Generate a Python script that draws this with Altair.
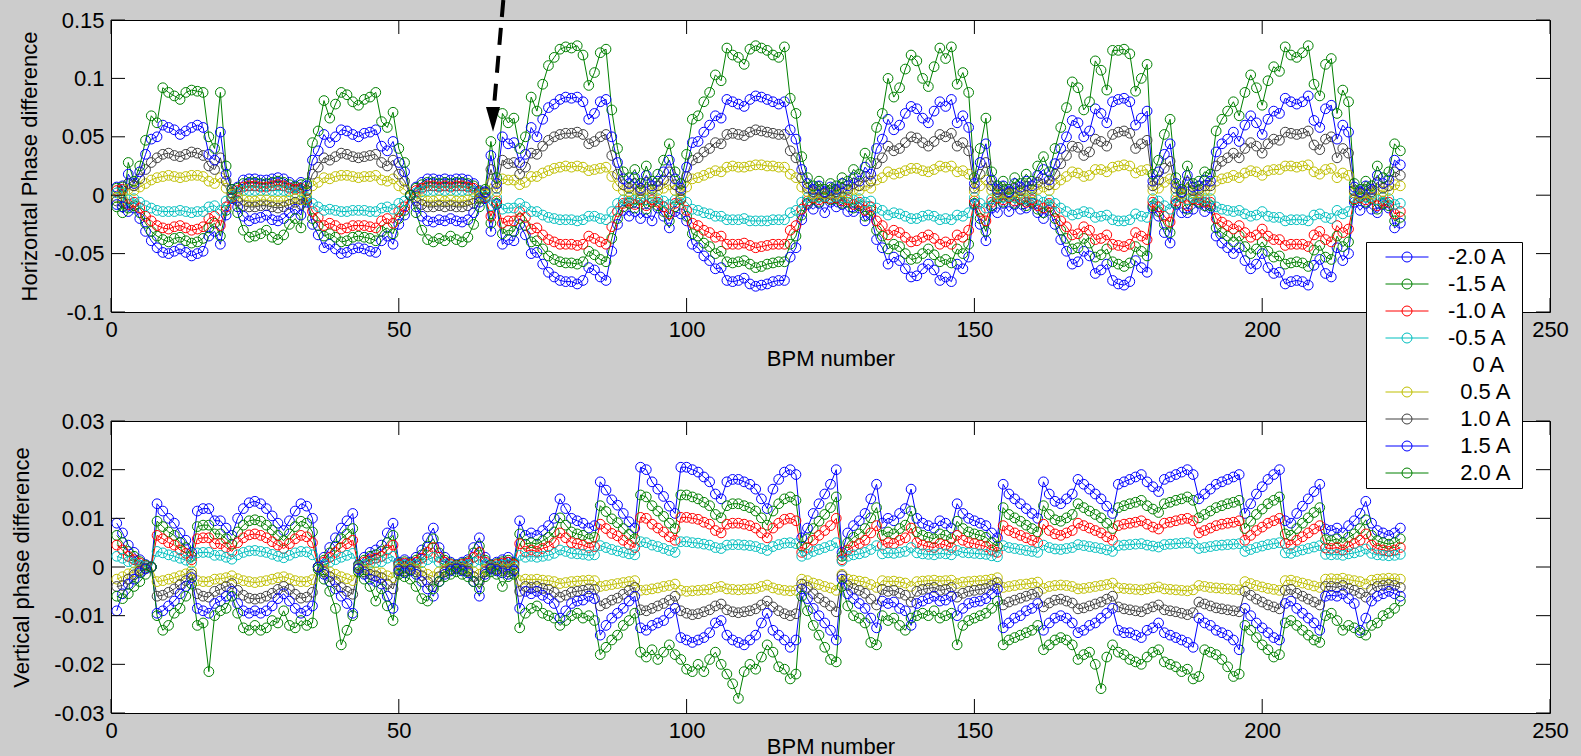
import altair as alt
import pandas as pd

FONT = "Liberation Sans, Arial, Helvetica, sans-serif"
W, H = 1439, 292
TICK_LEN = 14

SERIES = ["-2.0 A", "-1.5 A", "-1.0 A", "-0.5 A", "0 A", "0.5 A", "1.0 A", "1.5 A", "2.0 A"]
COLORS = ["#0000ff", "#008000", "#ff0000", "#00bfbf", "transparent", "#bfbf00", "#404040", "#0000ff", "#008000"]
PLOTTED = ["-2.0 A", "-1.5 A", "-1.0 A", "-0.5 A", "0.5 A", "1.0 A", "1.5 A", "2.0 A"]

BPM = list(range(1, 225))
X_TICKS = [0, 50, 100, 150, 200, 250]
H_TICKS = [-0.1, -0.05, 0, 0.05, 0.1, 0.15]
V_TICKS = [-0.03, -0.02, -0.01, 0, 0.01, 0.02, 0.03]

# ---- Horizontal phase difference, units of 0.001 ----
H_UNIT = 0.001
H_P20 = [-10,-15,28,12,25,47,68,62,92,88,85,82,88,90,89,88,50,40,88,25,
         5,-15,-30,-36,-35,-33,-30,-36,-38,-34,-25,-20,-28,10,45,55,81,66,78,88,
         86,80,77,82,84,88,63,58,71,40,28,0,-15,-30,-38,-40,-37,-39,-35,-38,
         -40,-36,-25,-10,5,46,15,70,62,66,40,50,84,72,95,111,118,125,127,126,
         128,120,94,105,122,125,73,40,20,15,22,10,25,12,18,30,44,20,10,35,
         65,68,80,88,103,98,126,120,118,112,125,128,126,124,120,118,127,83,70,33,
         15,8,12,5,10,8,15,12,22,18,36,28,58,70,100,84,92,108,120,115,
         100,93,110,126,117,127,95,105,88,15,40,66,20,8,12,5,15,10,18,12,
         25,33,20,40,58,75,97,92,73,80,115,107,90,124,124,125,121,89,100,112,
         18,30,52,65,15,5,25,10,12,20,18,55,65,72,80,68,88,103,92,77,
         98,110,106,127,120,118,122,128,95,85,112,117,70,90,80,10,5,12,8,25,
         15,20,44,38]
H_P15 = [-8,-10,18,10,20,35,48,50,60,58,56,52,55,58,60,58,35,30,54,18,
         5,-10,-18,-22,-20,-19,-17,-21,-22,-20,-15,-12,-17,8,30,38,52,45,50,56,
         55,52,50,53,54,56,42,38,46,28,20,0,-10,-18,-22,-23,-21,-22,-20,-22,
         -23,-21,-15,-6,3,34,10,50,44,45,28,35,58,50,65,75,78,82,84,83,
         84,80,65,70,80,82,50,28,14,10,15,6,17,8,12,20,30,14,6,24,
         45,46,54,60,68,66,82,80,78,76,82,85,84,82,80,78,80,56,48,22,
         10,5,8,3,7,5,10,8,15,12,24,18,40,48,65,56,60,70,76,74,
         66,62,72,80,76,82,62,68,58,10,28,44,13,5,8,3,10,7,12,8,
         17,22,13,27,40,50,64,62,50,55,74,70,62,80,82,83,80,60,66,72,
         12,20,35,44,10,3,17,7,8,13,12,37,44,48,54,46,60,68,62,52,
         65,72,70,83,80,78,80,85,64,58,74,77,48,60,54,7,3,8,5,17,
         10,13,30,26]
H_P10 = [-5,-6,10,8,14,22,28,32,35,36,34,33,35,37,36,34,25,22,32,12,
         2,-5,-9,-10,-10,-9,-9,-10,-11,-10,-8,-6,-8,4,18,24,32,30,33,36,
         35,33,32,33,34,35,28,25,30,18,12,0,-5,-8,-10,-10,-9,-10,-9,-10,
         -10,-9,-7,-3,2,22,6,30,27,28,18,24,36,35,42,47,50,52,53,53,
         54,52,44,46,50,52,34,18,9,6,10,4,11,5,8,13,20,9,4,16,
         30,32,37,40,45,44,52,53,52,51,54,56,55,54,53,52,52,38,32,15,
         6,3,5,2,4,3,6,5,10,8,16,12,27,32,42,38,40,45,50,49,
         45,42,46,52,50,53,42,45,38,6,18,28,8,3,5,2,6,4,8,5,
         11,14,9,18,27,34,42,41,34,37,48,46,42,52,54,55,53,40,44,47,
         8,13,23,29,6,2,11,4,5,8,8,25,29,32,36,32,40,45,42,36,
         44,48,47,54,53,52,53,55,43,39,48,50,32,40,36,4,2,5,3,11,
         6,8,20,17]
H_P05 = [-2,-3,5,4,7,10,13,15,16,17,16,15,16,17,17,16,12,10,15,6,
         1,-2,-4,-5,-5,-4,-4,-5,-5,-5,-4,-3,-4,2,8,11,15,14,16,17,
         17,16,15,16,16,17,13,12,14,8,5,0,-2,-4,-5,-5,-4,-5,-4,-5,
         -5,-4,-3,-1,1,10,3,14,13,13,9,11,16,16,19,21,23,24,25,24,
         25,24,21,22,23,24,16,8,4,3,5,2,5,2,4,6,9,4,2,7,
         14,15,17,19,21,20,24,25,24,24,25,26,26,25,25,24,24,18,15,7,
         3,1,2,1,2,1,3,2,5,4,8,6,13,15,20,18,19,21,23,23,
         21,20,22,25,24,25,20,21,18,3,8,13,4,1,2,1,3,2,4,2,
         5,7,4,9,13,16,20,19,16,17,22,22,20,24,25,26,25,19,21,22,
         4,6,11,14,3,1,5,2,2,4,4,12,14,15,17,15,19,21,20,17,
         21,22,22,25,25,24,25,26,20,18,22,23,15,19,17,2,1,2,1,5,
         3,4,9,8]
H_M05 = [2,2,-4,-3,-6,-9,-11,-13,-14,-14,-14,-13,-14,-15,-14,-14,-10,-9,-13,-5,
         -1,2,4,4,4,4,4,4,4,4,3,2,3,-2,-7,-10,-13,-12,-13,-14,
         -14,-13,-13,-13,-14,-14,-11,-10,-12,-7,-5,0,2,3,4,4,4,4,4,4,
         4,4,3,1,-1,-9,-2,-12,-11,-11,-7,-10,-14,-14,-17,-19,-20,-21,-21,-21,
         -22,-21,-18,-18,-20,-21,-14,-7,-4,-2,-4,-2,-4,-2,-3,-5,-8,-4,-2,-6,
         -12,-13,-15,-16,-18,-18,-21,-21,-21,-20,-22,-22,-22,-22,-21,-21,-21,-15,-13,-6,
         -2,-1,-2,-1,-2,-1,-2,-2,-4,-3,-6,-5,-11,-13,-17,-15,-16,-18,-20,-20,
         -18,-17,-18,-21,-20,-21,-17,-18,-15,-2,-7,-11,-3,-1,-2,-1,-2,-2,-3,-2,
         -4,-6,-4,-7,-11,-14,-17,-16,-14,-15,-19,-18,-17,-21,-22,-22,-21,-16,-18,-19,
         -3,-5,-9,-12,-2,-1,-4,-2,-2,-3,-3,-10,-12,-13,-14,-13,-16,-18,-17,-14,
         -18,-19,-19,-22,-21,-21,-21,-22,-17,-16,-19,-20,-13,-16,-14,-2,-1,-2,-1,-4,
         -2,-3,-8,-7]
H_M10 = [4,5,-8,-6,-11,-18,-22,-26,-28,-29,-27,-26,-28,-30,-29,-27,-20,-18,-26,-10,
         -2,4,7,8,8,7,7,8,9,8,6,5,6,-3,-14,-19,-26,-24,-26,-29,
         -28,-26,-26,-26,-27,-28,-22,-20,-24,-14,-10,0,4,6,8,8,7,8,7,8,
         8,7,6,2,-2,-18,-5,-24,-22,-22,-14,-19,-29,-28,-34,-38,-40,-42,-42,-42,
         -43,-42,-35,-37,-40,-42,-27,-14,-7,-5,-8,-3,-9,-4,-6,-10,-16,-7,-3,-13,
         -24,-26,-30,-32,-36,-35,-42,-42,-42,-41,-43,-45,-44,-43,-42,-42,-42,-30,-26,-12,
         -5,-2,-4,-2,-3,-2,-5,-4,-8,-6,-13,-10,-22,-26,-34,-30,-32,-36,-40,-39,
         -36,-34,-37,-42,-40,-42,-34,-36,-30,-5,-14,-22,-6,-2,-4,-2,-5,-3,-6,-4,
         -9,-11,-7,-14,-22,-27,-34,-33,-27,-30,-38,-37,-34,-42,-43,-44,-42,-32,-35,-38,
         -6,-10,-18,-23,-5,-2,-9,-3,-4,-6,-6,-20,-23,-26,-29,-26,-32,-36,-34,-29,
         -35,-38,-38,-43,-42,-42,-42,-44,-34,-31,-38,-40,-26,-32,-29,-3,-2,-4,-2,-9,
         -5,-6,-16,-14]
H_M15 = [6,7,-11,-9,-15,-24,-31,-35,-38,-40,-37,-36,-39,-41,-40,-37,-28,-24,-35,-13,
         -2,6,10,11,11,10,10,11,12,11,9,7,9,-4,-20,-26,-35,-33,-36,-40,
         -39,-36,-35,-36,-37,-39,-31,-28,-33,-20,-13,0,6,9,11,11,10,11,10,11,
         11,10,8,3,-2,-24,-7,-33,-30,-31,-20,-26,-40,-39,-46,-52,-55,-57,-58,-58,
         -59,-57,-48,-51,-55,-57,-37,-20,-10,-7,-11,-4,-12,-6,-9,-14,-22,-10,-4,-18,
         -33,-35,-41,-44,-50,-48,-57,-58,-57,-56,-59,-62,-61,-59,-58,-57,-57,-42,-35,-17,
         -7,-3,-6,-2,-4,-3,-7,-6,-11,-9,-18,-13,-30,-35,-46,-42,-44,-50,-55,-54,
         -50,-46,-51,-57,-55,-58,-46,-50,-42,-7,-20,-31,-9,-3,-6,-2,-7,-4,-9,-6,
         -12,-15,-10,-20,-30,-37,-46,-45,-37,-41,-53,-51,-46,-57,-59,-61,-58,-44,-48,-52,
         -9,-14,-25,-32,-7,-2,-12,-4,-6,-9,-9,-28,-32,-35,-40,-35,-44,-50,-46,-40,
         -48,-53,-52,-59,-58,-57,-58,-61,-47,-43,-53,-55,-35,-44,-40,-4,-2,-6,-3,-12,
         -7,-9,-22,-19]
H_M20 = [7,8,-14,-11,-20,-31,-39,-45,-49,-50,-48,-46,-49,-52,-50,-48,-35,-31,-42,-17,
         -3,7,13,14,14,13,13,14,15,14,11,8,11,-6,-25,-34,-45,-42,-46,-50,
         -49,-46,-45,-46,-48,-49,-39,-35,-42,-25,-17,0,7,11,14,14,13,14,13,14,
         14,13,10,4,-3,-31,-8,-42,-38,-39,-25,-34,-50,-49,-59,-66,-70,-73,-74,-74,
         -76,-73,-62,-64,-70,-73,-48,-25,-13,-18,-14,-20,-15,-22,-11,-18,-28,-14,-16,-22,
         -42,-45,-52,-56,-63,-62,-73,-74,-73,-71,-76,-78,-77,-76,-74,-73,-73,-53,-45,-21,
         -8,-12,-7,-15,-6,-10,-8,-14,-14,-11,-22,-17,-38,-45,-59,-53,-56,-63,-70,-69,
         -63,-59,-64,-73,-70,-74,-59,-63,-53,-8,-25,-39,-11,-15,-7,-14,-8,-12,-11,-7,
         -15,-20,-13,-25,-38,-48,-59,-57,-48,-52,-67,-64,-59,-73,-76,-77,-74,-56,-62,-66,
         -11,-18,-32,-41,-8,-15,-15,-12,-7,-14,-11,-35,-41,-45,-50,-45,-56,-63,-59,-50,
         -62,-67,-66,-76,-74,-73,-74,-77,-60,-55,-67,-70,-45,-56,-50,-6,-13,-7,-12,-15,
         -8,-11,-28,-24]

# ---- Vertical phase difference, units of 0.0001 ----
V_UNIT = 0.0001
V_M20 = [90,70,45,30,15,5,0,130,115,100,90,70,55,30,115,120,120,95,95,80,
         65,100,120,132,135,130,120,105,90,75,95,115,130,125,100,0,20,40,60,80,
         95,110,5,20,30,35,45,70,90,10,15,10,20,35,60,80,40,20,10,5,
         10,15,40,60,20,5,10,15,20,10,95,65,70,65,75,85,100,140,120,100,
         95,90,80,85,175,158,138,127,110,93,80,205,200,175,160,145,125,110,205,205,
         200,195,185,175,150,140,175,180,180,175,170,160,140,120,160,180,195,200,190,60,
         80,110,130,150,170,200,30,70,85,95,110,140,170,90,100,95,110,120,160,100,
         90,85,80,95,90,80,130,110,100,95,90,85,70,60,170,150,140,130,120,110,
         100,175,150,135,130,140,150,180,170,160,150,140,125,110,170,175,180,185,190,175,
         165,155,180,185,190,195,200,190,140,150,160,170,175,180,185,190,110,130,150,165,
         180,190,200,95,90,110,125,140,155,170,78,75,80,70,85,95,110,135,90,75,
         70,65,70,80]
V_M15 = [65,50,32,22,11,4,0,94,83,72,65,50,40,22,83,86,86,68,68,58,
         47,72,86,95,97,94,86,76,65,54,68,83,94,90,72,0,14,29,43,58,
         68,79,4,14,22,25,32,50,65,7,11,7,14,25,43,58,29,14,7,4,
         7,11,29,43,14,4,7,11,14,7,68,47,50,47,54,61,72,101,86,72,
         68,65,58,61,126,114,99,91,79,67,58,148,144,126,115,104,90,79,148,148,
         144,140,133,126,108,101,126,130,130,126,122,115,101,86,115,130,140,144,137,43,
         58,79,94,108,122,144,22,50,61,68,79,101,122,65,72,68,79,86,115,72,
         65,61,58,68,65,58,94,79,72,68,65,61,50,43,122,108,101,94,86,79,
         72,126,108,97,94,101,108,130,122,115,108,101,90,79,122,126,130,133,137,126,
         119,112,130,133,137,140,144,137,101,108,115,122,126,130,133,137,79,94,108,119,
         130,137,144,68,65,79,90,101,112,122,56,54,58,50,61,68,79,97,65,54,
         50,47,50,58]
V_M10 = [45,35,22,15,8,2,0,65,58,50,45,35,28,15,58,60,60,48,48,40,
         32,50,60,66,68,65,60,52,45,38,48,58,65,62,50,0,10,20,30,40,
         48,55,2,10,15,18,22,35,45,5,8,5,10,18,30,40,20,10,5,2,
         5,8,20,30,10,2,5,8,10,5,48,32,35,32,38,42,50,70,60,50,
         48,45,40,42,88,79,69,64,55,46,40,102,100,88,80,72,62,55,102,102,
         100,98,92,88,75,70,88,90,90,88,85,80,70,60,80,90,98,100,95,30,
         40,55,65,75,85,100,15,35,42,48,55,70,85,45,50,48,55,60,80,50,
         45,42,40,48,45,40,65,55,50,48,45,42,35,30,85,75,70,65,60,55,
         50,88,75,68,65,70,75,90,85,80,75,70,62,55,85,88,90,92,95,88,
         82,78,90,92,95,98,100,95,70,75,80,85,88,90,92,95,55,65,75,82,
         90,95,100,48,45,55,62,70,78,85,39,38,40,35,42,48,55,68,45,38,
         35,32,35,40]
V_M05 = [22,18,11,8,4,1,0,32,29,25,22,18,14,8,29,30,30,24,24,20,
         16,25,30,33,34,32,30,26,22,19,24,29,32,31,25,0,5,10,15,20,
         24,28,1,5,8,9,11,18,22,2,4,2,5,9,15,20,10,5,2,1,
         2,4,10,15,5,1,2,4,5,2,24,20,22,20,22,24,28,35,32,28,
         27,26,24,25,44,40,36,33,30,27,25,52,50,45,42,38,34,30,52,52,
         50,49,47,45,40,38,45,46,46,45,44,42,38,34,42,46,49,50,48,22,
         26,32,36,40,44,50,12,22,25,27,30,36,44,27,29,28,30,32,40,29,
         27,26,25,28,27,25,34,30,29,28,27,26,23,21,44,40,38,36,34,32,
         30,45,40,37,36,38,40,46,44,42,40,38,35,32,44,45,46,47,48,45,
         43,41,46,47,48,49,50,48,38,40,42,44,45,46,47,48,32,36,40,43,
         46,48,50,29,28,32,35,38,41,44,26,25,26,24,27,29,32,37,28,25,
         24,23,24,26]
V_P05 = [-25,-20,-14,-10,-6,-3,0,-30,-28,-25,-22,-18,-14,-8,-28,-30,-30,-25,-24,-22,
         -18,-24,-28,-30,-32,-30,-28,-25,-22,-20,-24,-28,-30,-30,-26,0,-6,-10,-15,-20,
         -24,-28,-2,-6,-8,-10,-12,-18,-22,-3,-4,-3,-5,-9,-15,-20,-10,-5,-3,-2,
         -3,-4,-10,-15,-5,-2,-3,-4,-5,-3,-28,-25,-26,-25,-27,-28,-30,-34,-32,-30,
         -29,-28,-27,-28,-40,-38,-36,-34,-32,-30,-28,-48,-47,-45,-43,-40,-38,-35,-48,-50,
         -49,-48,-47,-46,-42,-40,-45,-46,-47,-46,-45,-44,-40,-37,-43,-46,-48,-49,-48,-25,
         -28,-33,-36,-40,-43,-48,-15,-25,-27,-29,-31,-36,-42,-28,-30,-29,-31,-33,-40,-30,
         -29,-28,-27,-29,-28,-27,-34,-31,-30,-29,-28,-27,-25,-22,-42,-40,-38,-36,-35,-33,
         -31,-44,-40,-38,-37,-38,-40,-45,-44,-42,-40,-38,-36,-33,-43,-44,-45,-46,-47,-45,
         -43,-41,-45,-46,-47,-48,-49,-47,-38,-40,-42,-43,-44,-45,-46,-47,-30,-34,-38,-41,
         -44,-46,-48,-28,-27,-30,-33,-36,-39,-42,-25,-24,-25,-23,-26,-28,-30,-35,-27,-25,
         -24,-23,-24,-25]
V_P10 = [-40,-38,-25,-16,-8,-2,0,-60,-58,-52,-45,-36,-28,-15,-55,-60,-62,-50,-46,-40,
         -34,-48,-58,-64,-66,-64,-60,-54,-46,-40,-46,-56,-64,-62,-52,0,-10,-20,-30,-42,
         -50,-56,-3,-10,-15,-18,-22,-35,-45,-5,-8,-5,-10,-18,-30,-40,-20,-10,-5,-2,
         -5,-8,-20,-30,-10,-2,-5,-8,-10,-5,-50,-40,-42,-40,-44,-46,-52,-62,-58,-52,
         -50,-48,-45,-46,-80,-75,-68,-64,-56,-48,-42,-88,-90,-85,-80,-75,-68,-60,-90,-95,
         -98,-96,-92,-88,-80,-76,-88,-92,-94,-92,-90,-86,-78,-70,-82,-90,-96,-100,-96,-35,
         -42,-55,-64,-72,-80,-92,-18,-38,-44,-48,-54,-66,-78,-46,-50,-48,-54,-58,-72,-50,
         -46,-44,-42,-48,-46,-42,-62,-54,-50,-48,-46,-44,-38,-32,-78,-72,-68,-64,-60,-56,
         -52,-82,-74,-68,-66,-70,-74,-86,-84,-80,-76,-72,-66,-60,-82,-86,-88,-90,-92,-86,
         -82,-78,-88,-90,-92,-95,-98,-94,-72,-76,-80,-84,-86,-88,-90,-92,-50,-58,-66,-72,
         -78,-82,-86,-48,-46,-54,-60,-66,-72,-78,-40,-40,-42,-38,-44,-48,-54,-62,-46,-40,
         -38,-36,-38,-42]
V_P15 = [-90,-55,-35,-25,-12,-4,0,-95,-90,-80,-70,-55,-40,-22,-85,-90,-95,-75,-70,-60,
         -50,-75,-90,-95,-90,-95,-90,-80,-65,-55,-70,-85,-95,-90,-80,0,-15,-30,-45,-60,
         -75,-95,-4,-15,-25,-30,-35,-60,-85,-8,-12,-8,-15,-30,-45,-60,-30,-15,-8,-4,
         -8,-12,-30,-60,-15,-4,-8,-12,-15,-8,-85,-50,-55,-50,-58,-65,-75,-105,-90,-75,
         -70,-68,-60,-65,-140,-120,-105,-95,-85,-70,-60,-125,-130,-120,-115,-110,-95,-85,-145,-150,
         -155,-150,-145,-135,-115,-110,-140,-150,-155,-160,-150,-140,-115,-95,-130,-140,-150,-165,-150,-45,
         -65,-85,-100,-115,-130,-150,-25,-55,-65,-75,-85,-105,-125,-70,-75,-72,-85,-90,-120,-75,
         -70,-65,-60,-70,-68,-60,-100,-85,-75,-72,-70,-65,-55,-45,-125,-115,-105,-100,-90,-85,
         -75,-130,-115,-105,-100,-105,-115,-135,-130,-120,-115,-105,-95,-85,-130,-135,-135,-140,-145,-130,
         -125,-115,-135,-140,-145,-150,-155,-165,-105,-115,-120,-130,-135,-140,-150,-170,-85,-100,-115,-125,
         -135,-145,-150,-75,-70,-85,-95,-105,-115,-130,-60,-58,-60,-55,-65,-75,-130,-105,-70,-60,
         -55,-50,-55,-60]
V_P20 = [-60,-65,-55,-40,-30,-15,0,-100,-130,-120,-95,-85,-60,-35,-120,-115,-215,-100,-90,-85,
         -60,-95,-125,-130,-120,-130,-125,-110,-115,-90,-120,-125,-110,-120,-115,-5,-25,-50,-85,-160,
         -130,-100,-10,-25,-40,-70,-45,-80,-110,-15,-20,-25,-40,-65,-70,-45,-30,-20,-15,-10,
         -15,-20,-30,-45,-20,-10,-15,-40,-20,-15,-125,-95,-85,-80,-95,-100,-105,-120,-110,-100,
         -95,-105,-100,-110,-180,-165,-150,-140,-120,-110,-95,-175,-185,-170,-190,-175,-160,-180,-190,-210,
         -215,-200,-215,-190,-175,-200,-220,-240,-270,-215,-200,-210,-185,-160,-175,-205,-210,-230,-220,-60,
         -90,-120,-140,-165,-190,-195,-40,-80,-100,-105,-115,-155,-160,-100,-110,-105,-120,-130,-105,-100,
         -95,-100,-90,-105,-100,-95,-160,-120,-110,-105,-100,-95,-85,-70,-160,-150,-145,-140,-135,-130,
         -120,-170,-160,-150,-145,-150,-160,-190,-180,-175,-200,-250,-185,-160,-175,-180,-190,-195,-200,-185,
         -175,-170,-195,-200,-205,-215,-210,-230,-225,-170,-175,-180,-190,-205,-225,-220,-120,-130,-145,-160,
         -170,-185,-180,-115,-110,-120,-130,-140,-150,-155,-100,-95,-110,-130,-120,-125,-135,-140,-120,-115,
         -100,-95,-85,-70]

# Dashed arrow annotation (BPM, phase) in the upper panel
ARROW_BPM = [68.16, 66.53]
ARROW_VAL = [0.1671, 0.0755]
HEAD_BPM = [66.37]
HEAD_VAL = [0.065]

H_DATA = dict(zip(PLOTTED, [H_M20, H_M15, H_M10, H_M05, H_P05, H_P10, H_P15, H_P20]))
V_DATA = dict(zip(PLOTTED, [V_M20, V_M15, V_M10, V_M05, V_P05, V_P10, V_P15, V_P20]))


def to_long(data, unit):
    rows = []
    for name in PLOTTED:
        vals = data[name]
        assert len(vals) == len(BPM), (name, len(vals))
        for b, v in zip(BPM, vals):
            rows.append({"bpm": b, "series": name, "value": round(v * unit, 6)})
    return pd.DataFrame(rows)


h_df = to_long(H_DATA, H_UNIT)
v_df = to_long(V_DATA, V_UNIT)

# legend symbol: a short line with an open circle (unit = 5 px)
LEG_SYMBOL = "M-4.3,0L4.3,0M1,0A1,1,0,1,1,-1,0A1,1,0,1,1,1,0"
NB = "\u00a0"
ZW = "\u200b"
LABEL_EXPR = ("(datum.label == '0 A' ? '" + ZW + NB * 4 + "' : (indexof(datum.label, '-') == 0 ? '' : '"
              + ZW + NB * 2 + "')) + datum.label + '" + NB + ZW + "'")

color_enc = alt.Color(
    "series:N",
    scale=alt.Scale(domain=SERIES, range=COLORS),
    sort=SERIES,
    legend=alt.Legend(
        title=None, orient="none", legendX=1255, legendY=222,
        fillColor="white", strokeColor="black", padding=4,
        symbolType=LEG_SYMBOL, symbolSize=100, symbolStrokeWidth=1,
        symbolFillColor="transparent", symbolOffset=26,
        labelFont=FONT, labelFontSize=22, labelColor="black",
        labelOffset=30, rowPadding=5, labelExpr=LABEL_EXPR, labelLimit=400,
    ),
)

x_scale = alt.Scale(domain=[0, 250], nice=False, zero=False)


def panel(df, y_domain, y_ticks, y_title, y_title_x, x_title_y, with_arrow):
    y_scale = alt.Scale(domain=y_domain, nice=False, zero=False)
    main = alt.Chart(df).mark_line(
        strokeWidth=1,
        point=alt.OverlayMarkDef(shape="circle", filled=False, size=95, strokeWidth=1),
    ).encode(
        x=alt.X("bpm:Q", scale=x_scale, axis=alt.Axis(
            values=X_TICKS, title="BPM number", titleX=W / 2, titleY=x_title_y,
            titleBaseline="middle", labelExpr="'' + datum.value", labelFlush=False)),
        y=alt.Y("value:Q", scale=y_scale, axis=alt.Axis(
            values=y_ticks, title=y_title, titleX=y_title_x, titleY=H / 2, titleAngle=270,
            titleAlign="center", titleBaseline="middle", labelExpr="'' + datum.value",
            labelFlush=False)),
        color=color_enc,
    )
    xt = pd.DataFrame({"bpm": X_TICKS})
    yt = pd.DataFrame({"value": y_ticks})
    tick = dict(color="black", strokeWidth=1)
    xb = alt.Chart(xt).mark_rule(**tick).encode(x="bpm:Q", y=alt.value(H), y2=alt.value(H - TICK_LEN))
    xtp = alt.Chart(xt).mark_rule(**tick).encode(x="bpm:Q", y=alt.value(0), y2=alt.value(TICK_LEN))
    yl = alt.Chart(yt).mark_rule(**tick).encode(y="value:Q", x=alt.value(0), x2=alt.value(TICK_LEN))
    yr = alt.Chart(yt).mark_rule(**tick).encode(y="value:Q", x=alt.value(W), x2=alt.value(W - TICK_LEN))
    layers = [main, xb, xtp, yl, yr]
    if with_arrow:
        adf = pd.DataFrame({"bpm": [ARROW_BPM[0]], "value": [ARROW_VAL[0]],
                            "bpm2": [ARROW_BPM[1]], "value2": [ARROW_VAL[1]]})
        arrow = alt.Chart(adf).mark_rule(color="black", strokeWidth=4, strokeDash=[17, 11]).encode(
            x="bpm:Q", y="value:Q", x2="bpm2:Q", y2="value2:Q")
        hdf = pd.DataFrame({"bpm": HEAD_BPM, "value": HEAD_VAL})
        head = alt.Chart(hdf).mark_point(
            shape="M-0.57,-1L0.57,-1L0,1Z", filled=True, color="black", opacity=1, size=610
        ).encode(x="bpm:Q", y="value:Q")
        layers += [arrow, head]
    return alt.layer(*layers).properties(width=W, height=H)


top = panel(h_df, [-0.1, 0.15], H_TICKS, "Horizontal Phase difference", -82, 46, True)
bottom = panel(v_df, [-0.03, 0.03], V_TICKS, "Vertical phase difference", -90, 33, False)

chart = alt.vconcat(top, bottom, spacing=109, bounds="flush").configure(
    background="#cccccc",
    padding={"left": 111, "top": 20, "right": 1581 - 111 - W, "bottom": 756 - 20},
    autosize=alt.AutoSizeParams(type="none"),
).configure_view(
    fill="white", stroke="black", strokeWidth=1,
).configure_axis(
    grid=False, domain=False, ticks=False, tickSize=0, labelPadding=7,
    labelFont=FONT, labelFontSize=22, labelColor="black",
    titleFont=FONT, titleFontSize=22, titleFontWeight="normal", titleColor="black",
)

chart.save("out.html", embed_options={"renderer": "svg", "actions": False})
